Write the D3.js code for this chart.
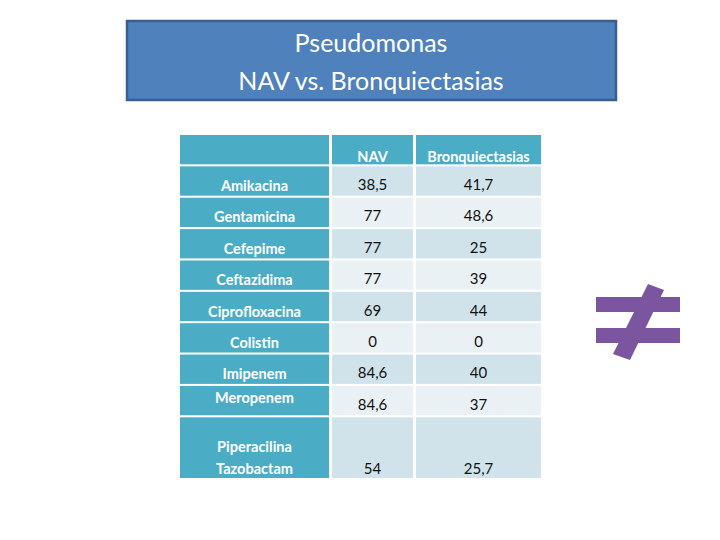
<!DOCTYPE html>
<html><head><meta charset="utf-8">
<script src="https://cdn.jsdelivr.net/npm/d3@7"></script>
<style>body{margin:0;background:#fff}</style></head>
<body><svg id="c" width="720" height="540"></svg>
<script>
const titleLines = ["Pseudomonas", "NAV vs. Bronquiectasias"];
const columns = ["", "NAV", "Bronquiectasias"];
const drugs = ["Amikacina","Gentamicina","Cefepime","Ceftazidima","Ciprofloxacina","Colistin","Imipenem","Meropenem","Piperacilina\nTazobactam"];
const nav = ["38,5","77","77","77","69","0","84,6","84,6","54"];
const bronq = ["41,7","48,6","25","39","44","0","40","37","25,7"];

const svg = d3.select("#c");
const font = "Lato, 'Open Sans', sans-serif";

// Title box
svg.append("rect").attr("x",127).attr("y",21).attr("width",489).attr("height",79)
  .attr("fill","#4F81BD").attr("stroke","#3A5F8C").attr("stroke-width",2.5);
svg.selectAll("text.t").data(titleLines).join("text").attr("class","t")
  .attr("x",371).attr("y",(d,i)=>52+i*38).attr("text-anchor","middle")
  .attr("font-family",font).attr("font-size",25).attr("fill","#fff").text(d=>d);

// Table scales
const x = d3.scaleOrdinal().domain([0,1,2]).range([180,332,416]);
const w = d3.scaleOrdinal().domain([0,1,2]).range([149,81,125]);
const rowIdx = d3.range(drugs.length);
const y = d3.scaleBand().domain(["h", ...rowIdx]).range([135,461]).paddingInner(0.065);
const yLast = d3.scaleLinear(); // unused
const heights = ["h",...rowIdx];
function rowY(k){ return y(k); }
function rowH(k){ return k===drugs.length-1 ? 461 - y(k) + 1 : y.bandwidth(); }

// adjust: last row taller -> recompute band with extra space
const y2 = d3.scaleBand().domain(["h", ...rowIdx, "x"]).range([135,478]).paddingInner(0.065);
function Y(k){ return y2(k); }
function H(k){ return k===drugs.length-1 ? (y2("x")+y2.bandwidth()) - y2(k) : y2.bandwidth(); }

// header
[0,1,2].forEach(c=>{
  svg.append("rect").attr("x",x(c)).attr("y",Y("h")).attr("width",w(c)).attr("height",H("h")).attr("fill","#4BACC6");
  svg.append("text").attr("x",x(c)+w(c)/2).attr("y",Y("h")+H("h")/2+12).attr("text-anchor","middle")
   .attr("font-family",font).attr("font-size",14.5).attr("font-weight","bold").attr("fill","#fff").text(columns[c]);
});
rowIdx.forEach(r=>{
  const fill = r%2===0 ? "#D0E3EA" : "#E9F1F4";
  const yy = Y(r), hh = H(r);
  svg.append("rect").attr("x",x(0)).attr("y",yy).attr("width",w(0)).attr("height",hh).attr("fill","#4BACC6");
  svg.append("rect").attr("x",x(1)).attr("y",yy).attr("width",w(1)).attr("height",hh).attr("fill",fill);
  svg.append("rect").attr("x",x(2)).attr("y",yy).attr("width",w(2)).attr("height",hh).attr("fill",fill);
  const lines = drugs[r].split("\n");
  const base = r===7 ? yy+hh-4 : (lines.length>1 ? yy+hh-4 : yy+hh/2+10);
  const offs = r===7 ? [-10] : null;
  lines.forEach((l,i)=>{
    svg.append("text").attr("x",x(0)+w(0)/2)
      .attr("y", lines.length>1 ? base-(lines.length-1-i)*22 : (r===7? yy+hh/2+2 : base))
      .attr("text-anchor","middle").attr("font-family",font).attr("font-size",14.5)
      .attr("font-weight","bold").attr("fill","#fff").text(l);
  });
  const vy = lines.length>1 ? yy+hh-4 : yy+hh/2+9;
  [[1,nav[r]],[2,bronq[r]]].forEach(([c,v])=>{
    svg.append("text").attr("x",x(c)+w(c)/2).attr("y",vy).attr("text-anchor","middle")
      .attr("font-family",font).attr("font-size",15).attr("fill","#111").text(v);
  });
});

// not-equal sign
const g = svg.append("g").attr("fill","#7B55A0");
g.append("rect").attr("x",596).attr("y",297).attr("width",84).attr("height",15);
g.append("rect").attr("x",596).attr("y",328).attr("width",84).attr("height",15);
g.append("path").attr("d","M648,284 L664,290 L630,360 L613,354 Z");
</script></body></html>
